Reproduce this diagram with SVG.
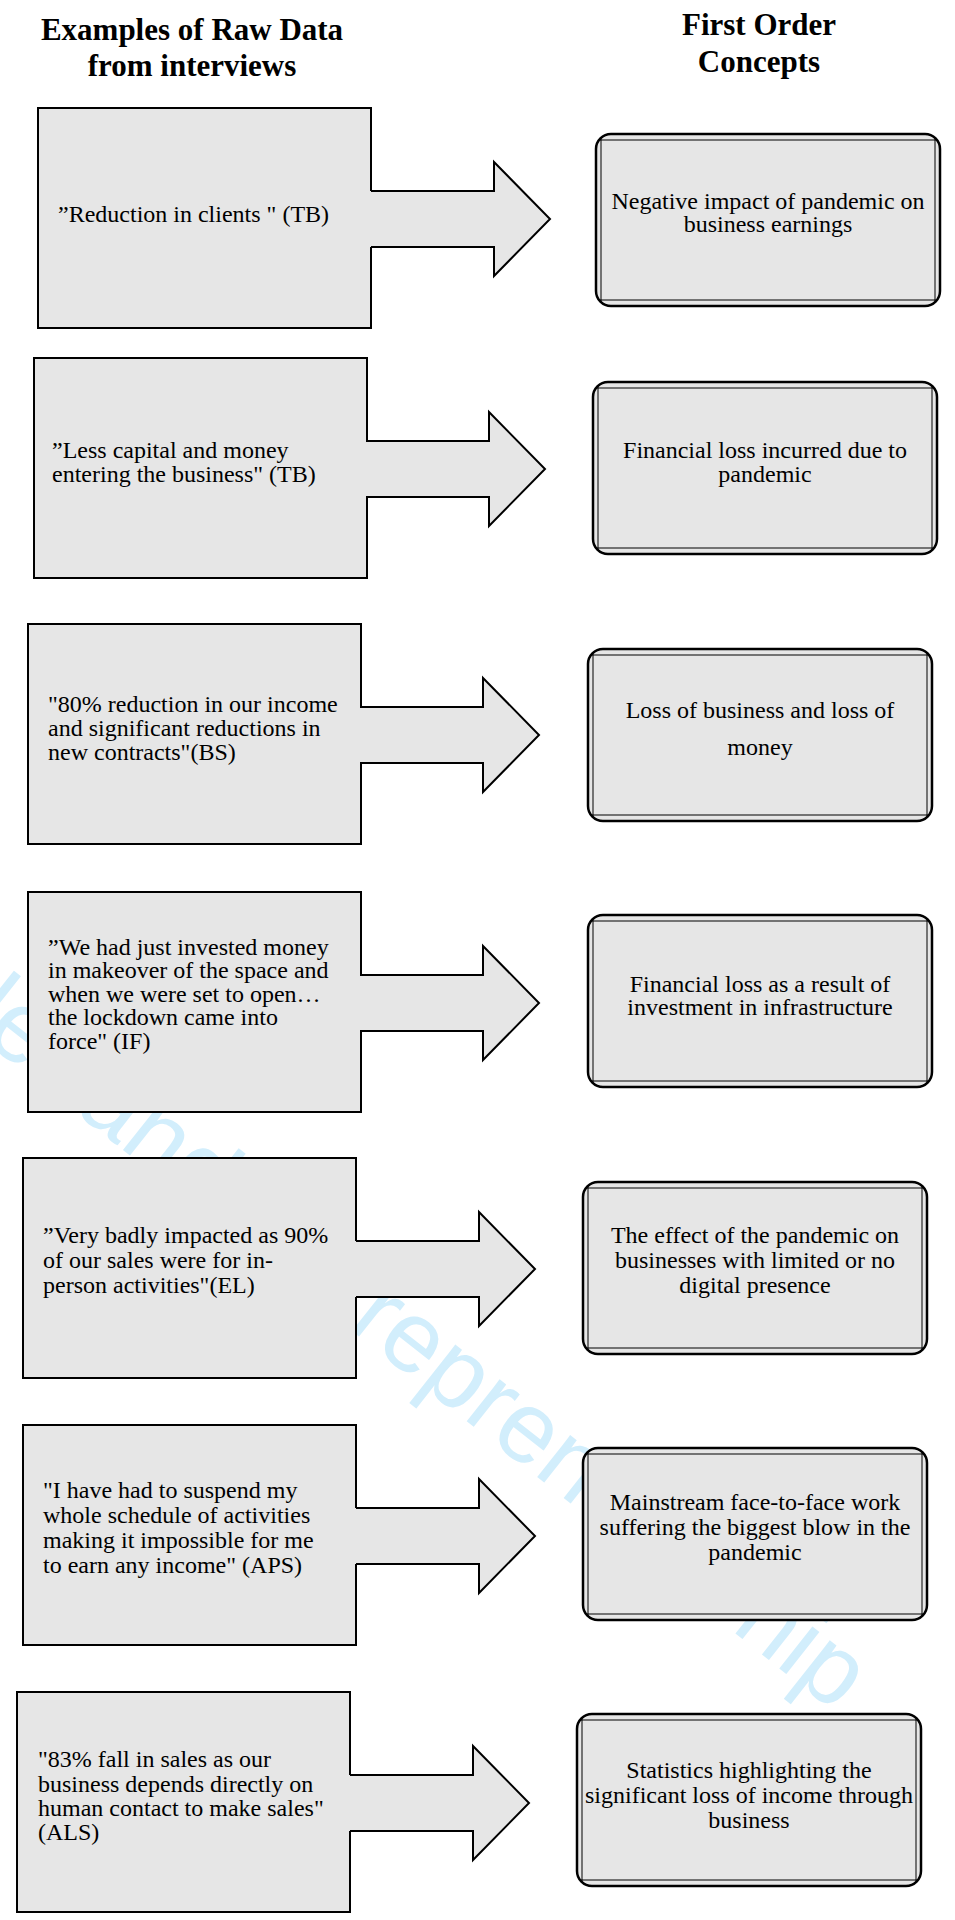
<svg xmlns="http://www.w3.org/2000/svg" xmlns:xlink="http://www.w3.org/1999/xlink" width="955" height="1920" viewBox="0 0 955 1920">
  <style>
    .t { font-family: "Liberation Serif", "Times New Roman", serif; font-size: 24px; fill: #000; }
    .c { text-anchor: middle; }
    .h { font-family: "Liberation Serif", "Times New Roman", serif; font-size: 31px; font-weight: bold; text-anchor: middle; fill: #000; }
    .quote { fill: #e6e6e6; stroke: #000; stroke-width: 2; }
    .frame { fill: #e6e6e6; stroke: #000; stroke-width: 2.5; }
    .frame-inner { fill: none; stroke: #000; stroke-width: 1; }
    .arrow-fill { fill: #e6e6e6; stroke: none; }
    .arrow-line { fill: none; stroke: #000; stroke-width: 2; stroke-linejoin: miter; }
    .wm { font-family: "Liberation Sans", Arial, sans-serif; font-size: 101px; fill: #d2eefc; text-anchor: end; }
  </style>
  <defs>
    <!-- raw-data box -->
    <rect id="quote-box" class="quote" x="0" y="0" width="333" height="220"/>
    <!-- double-line rounded concept frame -->
    <g id="concept-frame">
      <rect class="frame" x="0" y="0" width="344" height="172" rx="15" ry="15"/>
      <path class="frame-inner" d="M3,6 H341 M3,166 H341 M5,4 V168 M339,4 V168"/>
    </g>
    <!-- block arrow, origin at the top-right corner of a raw-data box -->
    <g id="block-arrow">
      <path class="arrow-fill" d="M-1.5,83 H123 V54 L179,111 L123,168 V139 H-1.5 Z"/>
      <path class="arrow-line" d="M0,83 H123 V54 L179,111 L123,168 V139 H0"/>
    </g>
  </defs>

  <rect width="955" height="1920" fill="#fff"/>

  <!-- diagonal background watermark -->
  <text class="wm" transform="translate(835.7,1712.9) rotate(38.3)">International Journal of Gender and Entrepreneurship</text>

  <g id="headings">
    <text class="h" x="192" y="40">Examples of Raw Data</text>
    <text class="h" x="192" y="76">from interviews</text>
    <text class="h" x="759" y="35">First Order</text>
    <text class="h" x="759" y="72">Concepts</text>
  </g>

  <!-- raw data boxes -->
  <g id="raw-1">
    <use xlink:href="#quote-box" x="38" y="108"/>
    <text class="t" x="58" y="222">”Reduction in clients " (TB)</text>
  </g>
  <g id="raw-2">
    <use xlink:href="#quote-box" x="34" y="358"/>
    <text class="t" x="52" y="458">”Less capital and money</text>
    <text class="t" x="52" y="482">entering the business" (TB)</text>
  </g>
  <g id="raw-3">
    <use xlink:href="#quote-box" x="28" y="624"/>
    <text class="t" x="48" y="712">"80% reduction in our income</text>
    <text class="t" x="48" y="736">and significant reductions in</text>
    <text class="t" x="48" y="760">new contracts"(BS)</text>
  </g>
  <g id="raw-4">
    <use xlink:href="#quote-box" x="28" y="892"/>
    <text class="t" x="48" y="955">”We had just invested money</text>
    <text class="t" x="48" y="978">in makeover of the space and</text>
    <text class="t" x="48" y="1002">when we were set to open…</text>
    <text class="t" x="48" y="1025">the lockdown came into</text>
    <text class="t" x="48" y="1049">force" (IF)</text>
  </g>
  <g id="raw-5">
    <use xlink:href="#quote-box" x="23" y="1158"/>
    <text class="t" x="43" y="1243">”Very badly impacted as 90%</text>
    <text class="t" x="43" y="1268">of our sales were for in-</text>
    <text class="t" x="43" y="1293">person activities"(EL)</text>
  </g>
  <g id="raw-6">
    <use xlink:href="#quote-box" x="23" y="1425"/>
    <text class="t" x="43" y="1498">"I have had to suspend my</text>
    <text class="t" x="43" y="1523">whole schedule of activities</text>
    <text class="t" x="43" y="1548">making it impossible for me</text>
    <text class="t" x="43" y="1573">to earn any income" (APS)</text>
  </g>
  <g id="raw-7">
    <use xlink:href="#quote-box" x="17" y="1692"/>
    <text class="t" x="38" y="1767">"83% fall in sales as our</text>
    <text class="t" x="38" y="1792">business depends directly on</text>
    <text class="t" x="38" y="1816">human contact to make sales"</text>
    <text class="t" x="38" y="1840">(ALS)</text>
  </g>

  <!-- first order concepts -->
  <g id="concept-1">
    <use xlink:href="#concept-frame" x="596" y="134"/>
    <text class="t c" x="768" y="209">Negative impact of pandemic on</text>
    <text class="t c" x="768" y="232">business earnings</text>
  </g>
  <g id="concept-2">
    <use xlink:href="#concept-frame" x="593" y="382"/>
    <text class="t c" x="765" y="458">Financial loss incurred due to</text>
    <text class="t c" x="765" y="482">pandemic</text>
  </g>
  <g id="concept-3">
    <use xlink:href="#concept-frame" x="588" y="649"/>
    <text class="t c" x="760" y="718">Loss of business and loss of</text>
    <text class="t c" x="760" y="755">money</text>
  </g>
  <g id="concept-4">
    <use xlink:href="#concept-frame" x="588" y="915"/>
    <text class="t c" x="760" y="992">Financial loss as a result of</text>
    <text class="t c" x="760" y="1015">investment in infrastructure</text>
  </g>
  <g id="concept-5">
    <use xlink:href="#concept-frame" x="583" y="1182"/>
    <text class="t c" x="755" y="1243">The effect of the pandemic on</text>
    <text class="t c" x="755" y="1268">businesses with limited or no</text>
    <text class="t c" x="755" y="1293">digital presence</text>
  </g>
  <g id="concept-6">
    <use xlink:href="#concept-frame" x="583" y="1448"/>
    <text class="t c" x="755" y="1510">Mainstream face-to-face work</text>
    <text class="t c" x="755" y="1535">suffering the biggest blow in the</text>
    <text class="t c" x="755" y="1560">pandemic</text>
  </g>
  <g id="concept-7">
    <use xlink:href="#concept-frame" x="577" y="1714"/>
    <text class="t c" x="749" y="1778">Statistics highlighting the</text>
    <text class="t c" x="749" y="1803">significant loss of income through</text>
    <text class="t c" x="749" y="1828">business</text>
  </g>

  <!-- connectors: block arrows from each raw-data box -->
  <g id="connectors">
    <use xlink:href="#block-arrow" x="371" y="108"/>
    <use xlink:href="#block-arrow" x="366" y="358"/>
    <use xlink:href="#block-arrow" x="360" y="624"/>
    <use xlink:href="#block-arrow" x="360" y="892"/>
    <use xlink:href="#block-arrow" x="356" y="1158"/>
    <use xlink:href="#block-arrow" x="356" y="1425"/>
    <use xlink:href="#block-arrow" x="350" y="1692"/>
  </g>
</svg>
